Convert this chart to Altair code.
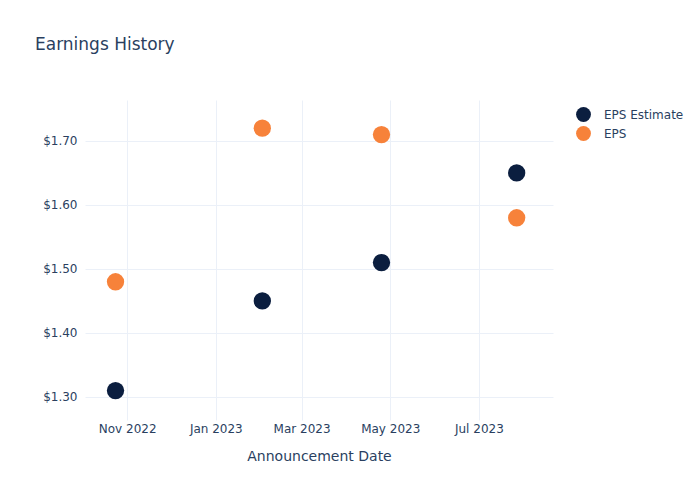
import altair as alt
import pandas as pd

dates = ["2022-10-24", "2023-02-02", "2023-04-25", "2023-07-27"]
eps_estimate = [1.31, 1.45, 1.51, 1.65]
eps_actual = [1.48, 1.72, 1.71, 1.58]
series_names = ["EPS Estimate", "EPS"]
series_colors = ["#0b1e3f", "#f7823a"]

rows = []
for d, v in zip(dates, eps_estimate):
    rows.append({"date": d + "T00:00:00Z", "value": v, "series": "EPS Estimate"})
for d, v in zip(dates, eps_actual):
    rows.append({"date": d + "T00:00:00Z", "value": v, "series": "EPS"})
df = pd.DataFrame(rows)

font = "DejaVu Sans"
txt = "#2a3f5f"
grid = "#ebf0f8"

tick_vals = [
    alt.DateTime(year=2022, month=11, date=1, utc=True),
    alt.DateTime(year=2023, month=1, date=1, utc=True),
    alt.DateTime(year=2023, month=3, date=1, utc=True),
    alt.DateTime(year=2023, month=5, date=1, utc=True),
    alt.DateTime(year=2023, month=7, date=1, utc=True),
]

points = alt.Chart(df).mark_circle(size=300, opacity=1).encode(
    x=alt.X(
        "date:T",
        scale=alt.Scale(
            type="utc",
            domain=[
                alt.DateTime(year=2022, month=10, date=3, utc=True),
                alt.DateTime(year=2023, month=8, date=21, utc=True),
            ],
        ),
        axis=alt.Axis(
            title="Announcement Date",
            values=tick_vals,
            format="%b %Y",
            domain=False,
            ticks=False,
            labelPadding=3,
            titlePadding=15,
            gridColor=grid,
            labelColor=txt,
            titleColor=txt,
            labelFont=font,
            titleFont=font,
            labelFontSize=12,
            titleFontSize=14,
            titleFontWeight="normal",
        ),
    ),
    y=alt.Y(
        "value:Q",
        scale=alt.Scale(domain=[1.264, 1.764], nice=False, zero=False),
        axis=alt.Axis(
            title=None,
            values=[1.3, 1.4, 1.5, 1.6, 1.7],
            format="$.2f",
            domain=False,
            ticks=False,
            labelPadding=8,
            gridColor=grid,
            labelColor=txt,
            labelFont=font,
            labelFontSize=12,
        ),
    ),
    color=alt.Color(
        "series:N",
        scale=alt.Scale(domain=series_names, range=series_colors),
        legend=alt.Legend(
            title=None,
            orient="none",
            legendX=490,
            legendY=6,
            symbolSize=220,
            symbolType="circle",
            labelFont=font,
            labelFontSize=12,
            labelColor=txt,
            rowPadding=3,
            labelOffset=12,
        ),
    ),
)

title = alt.Chart(pd.DataFrame({"t": ["Earnings History"]})).mark_text(
    align="left", baseline="middle", font=font, fontSize=17, color=txt
).encode(x=alt.value(-50), y=alt.value(-55), text="t:N")

chart = (
    alt.layer(points, title)
    .properties(
        width=468,
        height=320,
        autosize=alt.AutoSizeParams(type="none"),
        padding={"left": 85, "top": 100, "right": 147, "bottom": 80},
        background="white",
    )
    .configure_view(stroke=None)
)

chart.save("out.html", embed_options={"renderer": "svg", "actions": False})
